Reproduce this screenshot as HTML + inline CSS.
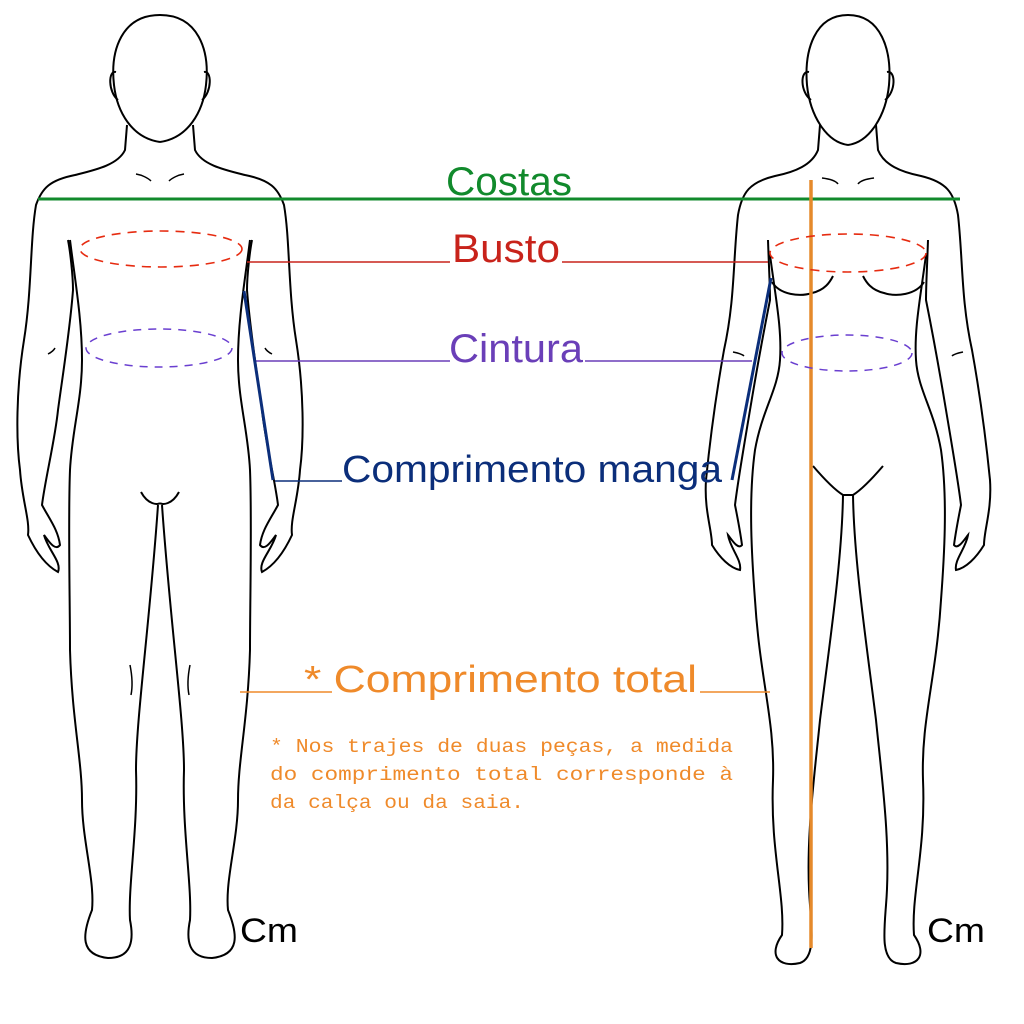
<!DOCTYPE html>
<html><head><meta charset="utf-8"><style>
html,body{margin:0;padding:0;background:#fff;}
svg{display:block;}
text{font-family:"Liberation Sans","DejaVu Sans",sans-serif;}
</style></head><body>
<svg width="1024" height="1024" viewBox="0 0 1024 1024" xmlns="http://www.w3.org/2000/svg">
<rect width="1024" height="1024" fill="#fff"/>
<defs>
<g id="male">
<path d="M160,15 C122,15 110,50 114,85 C117,112 132,138 160,142" fill="none" stroke="#000" stroke-width="2"/>
<path d="M116,72 C108,70 108,92 118,100" fill="none" stroke="#000" stroke-width="2"/>
<path d="M127,125 L125,150 C118,165 95,170 75,175 C50,180 42,188 36,205 C30,240 32,290 24,340 C16,390 16,440 20,470 C22,500 30,520 28,535 C35,550 45,565 58,572 C62,562 48,550 44,535 C48,540 55,552 60,545 C58,530 50,520 42,505 C45,480 55,440 58,410 C62,380 70,330 73,290 C73,275 70,250 68,240" fill="none" stroke="#000" stroke-width="2"/>
<path d="M70,240 C75,280 82,320 82,360 C82,400 72,430 70,470 C68,520 70,600 70,650 C72,720 82,760 82,800 C82,840 95,880 92,910 C82,935 80,955 108,958 C132,958 134,940 130,920 C128,885 138,830 136,770 C136,720 150,620 158,505" fill="none" stroke="#000" stroke-width="2"/>
<path d="M141,492 C148,505 158,505 160,503" fill="none" stroke="#000" stroke-width="2"/>
<path d="M136,174 C142,175 148,178 151,181" fill="none" stroke="#000" stroke-width="1.5"/>
<path d="M48,354 C52,352 54,350 55,348" fill="none" stroke="#000" stroke-width="1.5"/>
<path d="M130,665 C132,675 133,685 131,695" fill="none" stroke="#000" stroke-width="1.5"/>
</g>
<g id="female">
<path d="M848,15 C815,15 804,50 807,85 C810,115 826,142 848,145" fill="none" stroke="#000" stroke-width="2"/>
<path d="M809,72 C800,70 800,92 811,100" fill="none" stroke="#000" stroke-width="2"/>
<path d="M820,125 L818,150 C812,165 795,172 775,176 C750,182 742,192 738,215 C733,260 735,300 724,350 C715,400 710,440 706,480 C704,510 712,530 712,545 C720,558 730,568 740,570 C742,560 730,548 728,535 C732,540 738,550 742,545 C740,530 738,520 735,505 C738,480 745,440 750,410 C755,380 762,340 770,300 C770,285 769,270 768,240" fill="none" stroke="#000" stroke-width="2"/>
<path d="M770,255 C776,300 782,330 780,360 C778,390 762,410 755,450 C748,500 752,560 755,600 C760,680 775,720 773,780 C770,850 785,895 782,935 C768,955 778,968 800,963 C815,958 812,932 810,905 C805,845 814,780 820,720 C830,640 842,560 843,495" fill="none" stroke="#000" stroke-width="2"/>
<path d="M772,282 C780,295 800,297 812,293 C825,290 830,282 833,276" fill="none" stroke="#000" stroke-width="2"/>
<path d="M813,466 C825,480 835,490 843,495 L848,495" fill="none" stroke="#000" stroke-width="2"/>
<path d="M822,178 C830,179 836,181 838,184" fill="none" stroke="#000" stroke-width="1.5"/>
<path d="M733,352 C738,353 742,354 744,356" fill="none" stroke="#000" stroke-width="1.5"/>
</g>
</defs>
<use href="#male"/>
<use href="#male" transform="translate(320,0) scale(-1,1)"/>
<use href="#female"/>
<use href="#female" transform="translate(1696,0) scale(-1,1)"/>

<line x1="38" y1="199" x2="960" y2="199" stroke="#118a2c" stroke-width="3"/>
<line x1="247" y1="262" x2="450" y2="262" stroke="#c8231b" stroke-width="1.6"/>
<line x1="562" y1="262" x2="768" y2="262" stroke="#c8231b" stroke-width="1.6"/>
<line x1="255" y1="361" x2="450" y2="361" stroke="#6a3fb8" stroke-width="1.6"/>
<line x1="585" y1="361" x2="752" y2="361" stroke="#6a3fb8" stroke-width="1.6"/>
<line x1="275" y1="481" x2="342" y2="481" stroke="#0b2e7a" stroke-width="1.6"/>
<line x1="244" y1="291" x2="273" y2="480" stroke="#0b2e7a" stroke-width="3"/>
<line x1="771" y1="278" x2="732" y2="480" stroke="#0b2e7a" stroke-width="3"/>
<line x1="240" y1="692" x2="332" y2="692" stroke="#ef8a2a" stroke-width="1.6"/>
<line x1="700" y1="692" x2="770" y2="692" stroke="#ef8a2a" stroke-width="1.6"/>
<line x1="811" y1="180" x2="811" y2="948" stroke="#e58a2b" stroke-width="3.5"/>

<ellipse cx="161" cy="249" rx="81" ry="18" fill="none" stroke="#e62b10" stroke-width="1.6" stroke-dasharray="9,7"/>
<ellipse cx="159" cy="348" rx="73" ry="19" fill="none" stroke="#6a3fd0" stroke-width="1.5" stroke-dasharray="8,7"/>
<ellipse cx="848" cy="253" rx="78" ry="19" fill="none" stroke="#e62b10" stroke-width="1.6" stroke-dasharray="9,7"/>
<ellipse cx="847" cy="353" rx="65" ry="18" fill="none" stroke="#6a3fd0" stroke-width="1.5" stroke-dasharray="8,7"/>

<text x="446" y="195" font-size="40" fill="#118a2c" textLength="126" lengthAdjust="spacingAndGlyphs">Costas</text>
<text x="452" y="262" font-size="40" fill="#c8231b" textLength="108" lengthAdjust="spacingAndGlyphs">Busto</text>
<text x="449" y="362" font-size="40" fill="#6a3fb8" textLength="134" lengthAdjust="spacingAndGlyphs">Cintura</text>
<text x="342" y="482" font-size="38" fill="#0b2e7a" textLength="380" lengthAdjust="spacingAndGlyphs">Comprimento manga</text>
<text x="304" y="692" font-size="38" fill="#ef8a2a" textLength="393" lengthAdjust="spacingAndGlyphs">* Comprimento total</text>
<text x="270" y="752" font-size="19" fill="#ef8a2a" style="font-family:'Liberation Mono',monospace" textLength="463" lengthAdjust="spacingAndGlyphs">* Nos trajes de duas peças, a medida</text>
<text x="270" y="780" font-size="19" fill="#ef8a2a" style="font-family:'Liberation Mono',monospace" textLength="463" lengthAdjust="spacingAndGlyphs">do comprimento total corresponde à</text>
<text x="270" y="808" font-size="19" fill="#ef8a2a" style="font-family:'Liberation Mono',monospace" textLength="254" lengthAdjust="spacingAndGlyphs">da calça ou da saia.</text>
<text x="240" y="942" font-size="34" fill="#000" textLength="58" lengthAdjust="spacingAndGlyphs">Cm</text>
<text x="927" y="942" font-size="34" fill="#000" textLength="58" lengthAdjust="spacingAndGlyphs">Cm</text>
</svg>
</body></html>
